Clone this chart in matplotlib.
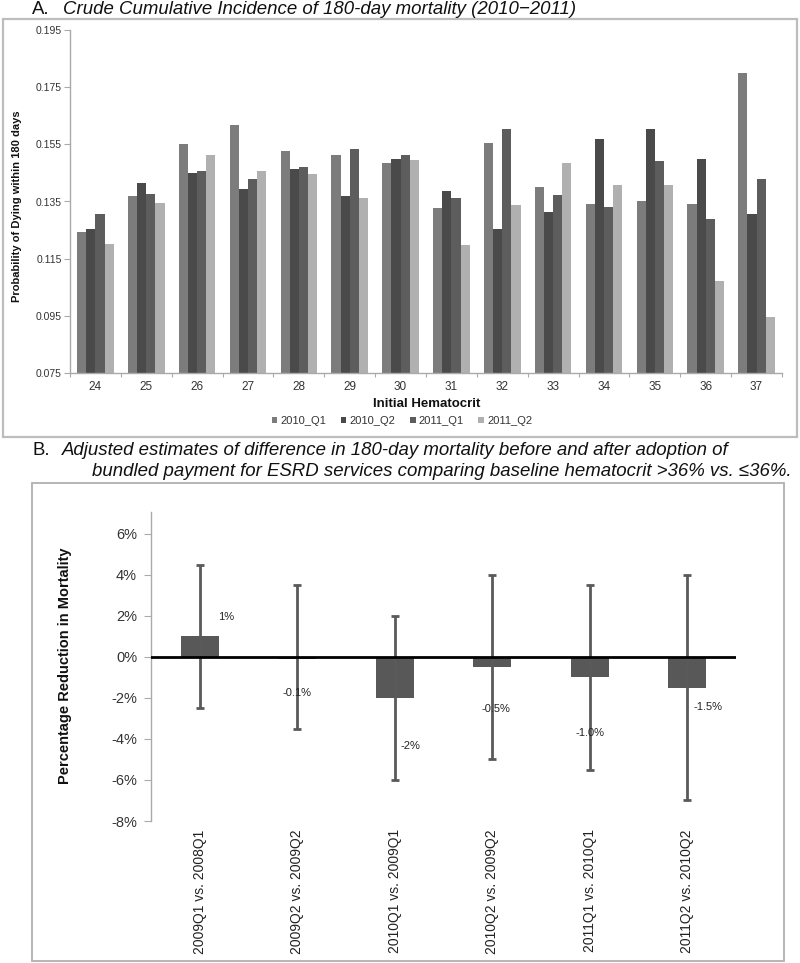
import matplotlib
matplotlib.use("Agg")
import matplotlib.pyplot as plt
import matplotlib.patches as mpatches
from matplotlib.font_manager import fontManager
import numpy as np

# ---------------- data ----------------
hematocrit = ["24", "25", "26", "27", "28", "29", "30", "31", "32", "33", "34", "35", "36", "37"]
series_names = ["2010_Q1", "2010_Q2", "2011_Q1", "2011_Q2"]
q2010_1 = [0.1244, 0.1369, 0.1552, 0.1617, 0.1527, 0.1514, 0.1486, 0.1328, 0.1555, 0.1402, 0.1343, 0.1350, 0.1341, 0.1799]
q2010_2 = [0.1255, 0.1415, 0.1451, 0.1395, 0.1464, 0.1370, 0.1500, 0.1386, 0.1253, 0.1313, 0.1568, 0.1603, 0.1499, 0.1307]
q2011_1 = [0.1308, 0.1376, 0.1458, 0.1430, 0.1469, 0.1533, 0.1514, 0.1362, 0.1602, 0.1371, 0.1330, 0.1490, 0.1290, 0.1430]
q2011_2 = [0.1203, 0.1346, 0.1512, 0.1458, 0.1446, 0.1362, 0.1496, 0.1199, 0.1337, 0.1486, 0.1406, 0.1409, 0.1071, 0.0945]
top_yticks = [0.075, 0.095, 0.115, 0.135, 0.155, 0.175, 0.195]

comparisons = ["2009Q1 vs. 2008Q1", "2009Q2 vs. 2009Q2", "2010Q1 vs. 2009Q1",
               "2010Q2 vs. 2009Q2", "2011Q1 vs. 2010Q1", "2011Q2 vs. 2010Q2"]
estimate = [1.0, -0.1, -2.0, -0.5, -1.0, -1.5]
ci_upper = [4.5, 3.5, 2.0, 4.0, 3.5, 4.0]
ci_lower = [-2.5, -3.5, -6.0, -5.0, -5.5, -7.0]
est_labels = ["1%", "-0.1%", "-2%", "-0.5%", "-1.0%", "-1.5%"]
bottom_yticks = [6, 4, 2, 0, -2, -4, -6, -8]

# ---------------- fonts ----------------
names = {f.name for f in fontManager.ttflist}
SANS = ["Liberation Sans", "DejaVu Sans"]
NARROW = (["Liberation Sans Narrow"] if "Liberation Sans Narrow" in names else []) + SANS
plt.rcParams["font.family"] = SANS

W, H = 800, 963
fig = plt.figure(figsize=(W / 100, H / 100), dpi=100)

def fx(x):
    return x / W

def fy(y):
    return 1 - y / H

# ---------------- borders ----------------
fig.patches.append(mpatches.Rectangle((fx(3), fy(437)), fx(797) - fx(3), fy(19) - fy(437),
                                      transform=fig.transFigure, fill=False,
                                      edgecolor="#bdbdbd", linewidth=1.6))
fig.patches.append(mpatches.Rectangle((fx(32), fy(961)), fx(784) - fx(32), fy(483) - fy(961),
                                      transform=fig.transFigure, fill=False,
                                      edgecolor="#b5b5b5", linewidth=1.4))

# ---------------- titles ----------------
tsize = 13.4
fig.text(fx(32), fy(9), "A.", fontsize=tsize, va="center", ha="left", color="#111111")
fig.text(fx(63), fy(9), "Crude Cumulative Incidence of 180-day mortality (2010\u22122011)",
         fontsize=tsize, style="italic", va="center", ha="left", color="#111111")
fig.text(fx(32), fy(450), "B.", fontsize=tsize, va="center", ha="left", color="#111111")
fig.text(fx(62), fy(450), "Adjusted estimates of difference in 180-day mortality before and after adoption of",
         fontsize=tsize, style="italic", va="center", ha="left", color="#111111")
fig.text(fx(92), fy(471), "bundled payment for ESRD services comparing baseline hematocrit >36% vs. \u226436%.",
         fontsize=tsize, style="italic", va="center", ha="left", color="#111111")

# ---------------- top chart ----------------
ax1 = fig.add_axes([fx(70), fy(373), fx(782) - fx(70), fy(30) - fy(373)])
x = np.arange(len(hematocrit))
colors = ["#7c7c7c", "#4a4a4a", "#5d5d5d", "#b0b0b0"]
bw = 0.18
all_series = [q2010_1, q2010_2, q2011_1, q2011_2]
for i, (vals, c, nm) in enumerate(zip(all_series, colors, series_names)):
    ax1.bar(x + (i - 1.5) * bw, vals, width=bw, color=c, label=nm, linewidth=0)
ax1.set_ylim(0.075, 0.195)
ax1.set_xlim(-0.5, len(hematocrit) - 0.5)
ax1.set_yticks(top_yticks)
ax1.set_yticklabels([f"{v:.3f}" for v in top_yticks], fontsize=7.5, color="#333333")
ax1.set_xticks(np.arange(-0.5, len(hematocrit), 1.0))
ax1.set_xticklabels([])
ax1.set_xticks(x, minor=True)
ax1.set_xticklabels(hematocrit, minor=True, fontsize=8.5, color="#333333")
ax1.tick_params(axis="x", which="minor", length=0, pad=6)
ax1.tick_params(axis="x", which="major", length=3, color="#aaaaaa", direction="out")
ax1.tick_params(axis="y", length=4, color="#aaaaaa", direction="out", pad=2)
for s in ["top", "right"]:
    ax1.spines[s].set_visible(False)
for s in ["left", "bottom"]:
    ax1.spines[s].set_color("#aaaaaa")
    ax1.spines[s].set_linewidth(1.0)
fig.text(fx(17), fy(206), "Probability of Dying within 180 days", rotation=90,
         fontsize=8, fontweight="bold", ha="center", va="center", color="#111111")
fig.text(fx(427), fy(404), "Initial Hematocrit", fontsize=9.5, fontweight="bold",
         ha="center", va="center", color="#111111")
fig.legend(loc="center", bbox_to_anchor=(fx(402), fy(421)), ncol=4, frameon=False,
           prop={"family": NARROW, "size": 8}, handlelength=0.5, handleheight=0.5,
           handletextpad=0.3, columnspacing=1.3, labelcolor="#333333")

# ---------------- bottom chart ----------------
ax2 = fig.add_axes([fx(151), fy(821), fx(736) - fx(151), fy(512) - fy(821)])
xb = np.arange(len(comparisons))
yerr = [np.array(estimate) - np.array(ci_lower), np.array(ci_upper) - np.array(estimate)]
ax2.bar(xb, estimate, width=0.39, color="#585858", linewidth=0, zorder=2)
ax2.errorbar(xb, estimate, yerr=yerr, fmt="none", ecolor="#5a5a5a", elinewidth=2.0,
             capsize=3, capthick=2.0, zorder=3)
ax2.axhline(0, color="#000000", linewidth=2.0, zorder=4)
ax2.set_xlim(-0.5, len(comparisons) - 0.5)
ax2.set_ylim(-8, 7.07)
ax2.set_yticks(bottom_yticks)
ax2.set_yticklabels([f"{v}%" for v in bottom_yticks], fontsize=10.5, color="#333333",
                    family=NARROW)
ax2.set_xticks(xb)
ax2.set_xticklabels(comparisons, rotation=90, fontsize=10, color="#222222", va="top")
ax2.tick_params(axis="x", length=0, pad=6)
ax2.tick_params(axis="y", length=5, color="#aaaaaa", direction="out", pad=5)
for s in ["top", "right", "bottom"]:
    ax2.spines[s].set_visible(False)
ax2.spines["left"].set_color("#aaaaaa")
ax2.spines["left"].set_linewidth(1.0)
fig.text(fx(65), fy(666), "Percentage Reduction in Mortality", rotation=90, fontsize=10.5,
         fontweight="bold", ha="center", va="center", color="#111111")

# data-label positions (text placement only)
lab_dx = [0.27, 0.0, 0.16, 0.04, 0.0, 0.21]
lab_y = [1.95, -1.76, -4.34, -2.54, -3.7, -2.44]
for xi, dx, yv, t in zip(xb, lab_dx, lab_y, est_labels):
    ax2.text(xi + dx, yv, t, fontsize=8, ha="center", va="center", color="#222222",
             family=NARROW, zorder=5)

fig.savefig("out.png", dpi=100)
